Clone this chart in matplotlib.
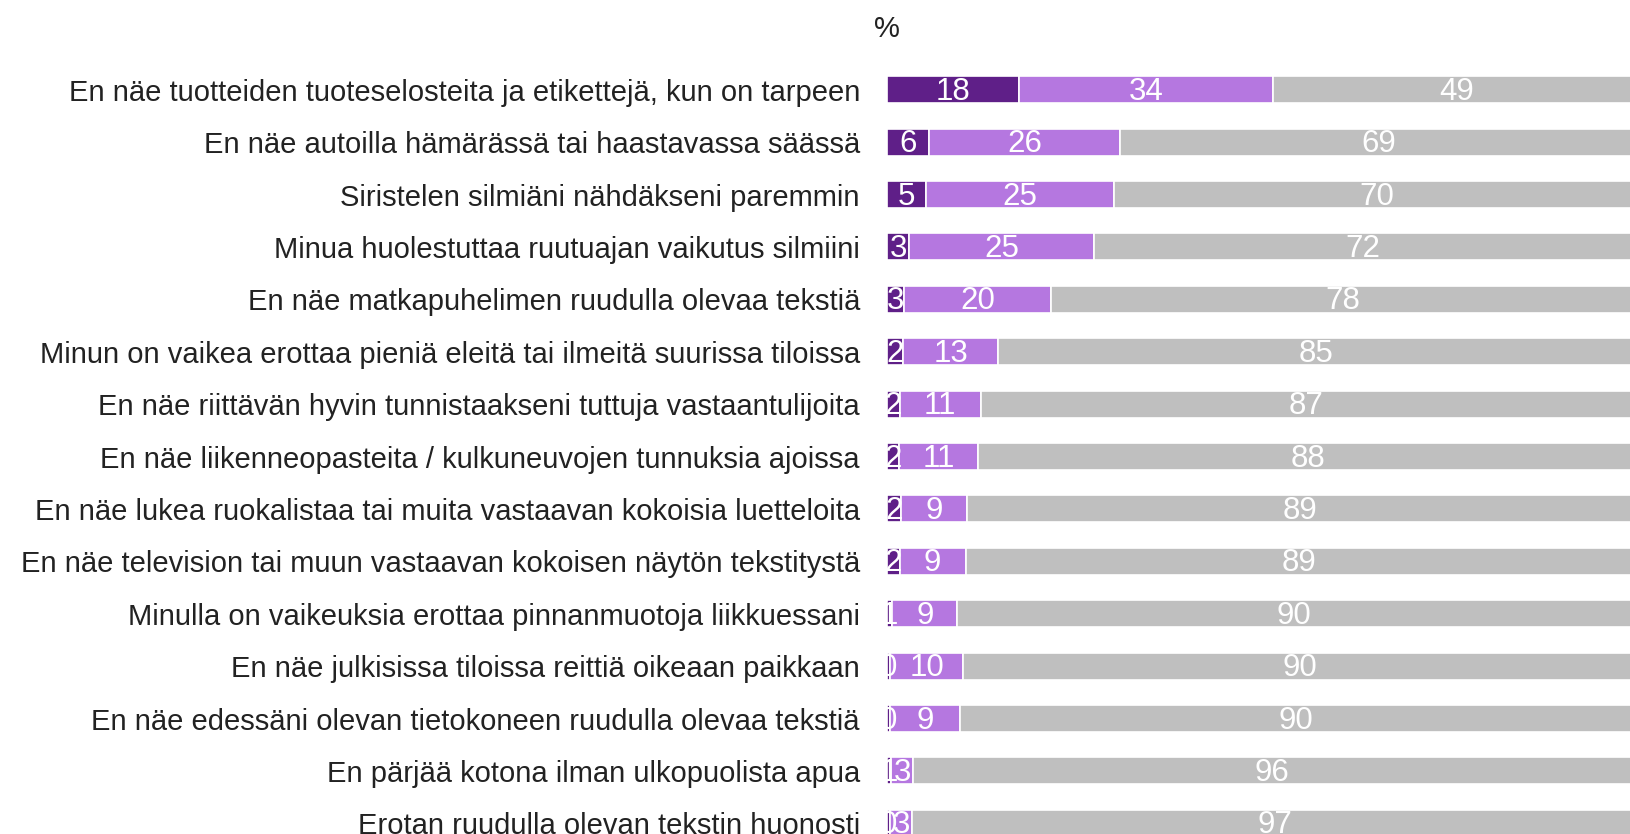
import numpy as np
import matplotlib
matplotlib.use('Agg')
import matplotlib.pyplot as plt

plt.rcParams['font.family'] = ['Liberation Sans', 'DejaVu Sans']

categories = [
    'En näe tuotteiden tuoteselosteita ja etikettejä, kun on tarpeen',
    'En näe autoilla hämärässä tai haastavassa säässä',
    'Siristelen silmiäni nähdäkseni paremmin',
    'Minua huolestuttaa ruutuajan vaikutus silmiini',
    'En näe matkapuhelimen ruudulla olevaa tekstiä',
    'Minun on vaikea erottaa pieniä eleitä tai ilmeitä suurissa tiloissa',
    'En näe riittävän hyvin tunnistaakseni tuttuja vastaantulijoita',
    'En näe liikenneopasteita / kulkuneuvojen tunnuksia ajoissa',
    'En näe lukea ruokalistaa tai muita vastaavan kokoisia luetteloita',
    'En näe television tai muun vastaavan kokoisen näytön tekstitystä',
    'Minulla on vaikeuksia erottaa pinnanmuotoja liikkuessani',
    'En näe julkisissa tiloissa reittiä oikeaan paikkaan',
    'En näe edessäni olevan tietokoneen ruudulla olevaa tekstiä',
    'En pärjää kotona ilman ulkopuolista apua',
    'Erotan ruudulla olevan tekstin huonosti',
]
often = [17.6, 5.6, 5.2, 3.0, 2.3, 2.2, 1.7, 1.6, 1.9, 1.7, 0.7, 0.4, 0.4, 0.6, 0.4]
sometimes = [34.0, 25.6, 25.2, 24.6, 19.6, 12.6, 10.8, 10.6, 8.8, 8.8, 8.7, 9.8, 9.3, 2.9, 3.0]
never = [49.0, 69.0, 70.0, 72.0, 78.0, 85.0, 87.0, 88.0, 89.0, 89.0, 90.0, 90.0, 90.0, 96.0, 97.0]
often_lbl = [18, 6, 5, 3, 3, 2, 2, 2, 2, 2, 1, 0, 0, 1, 0]
sometimes_lbl = [34, 26, 25, 25, 20, 13, 11, 11, 9, 9, 9, 10, 9, 3, 3]
never_lbl = [49, 69, 70, 72, 78, 85, 87, 88, 89, 89, 90, 90, 90, 96, 97]

colors = ['#5f1f88', '#b577e0', '#bfbfbf']

W, H = 1630, 834
fig = plt.figure(figsize=(W / 100, H / 100), dpi=100)
left, top, bottom = 887, 63.5, 849.6
ax = fig.add_axes([left / W, (H - bottom) / H, (W - left) / W, (bottom - top) / H])

y = np.arange(len(categories))
starts = np.zeros(len(categories))
for vals, lbls, col in zip([often, sometimes, never],
                           [often_lbl, sometimes_lbl, never_lbl], colors):
    bars = ax.barh(y, vals, left=starts, height=0.515, color=col,
                   edgecolor='white', linewidth=1.2)
    for rect, v, lab, yi, s in zip(bars, vals, lbls, y, starts):
        t = ax.text(s + v / 2, yi + 0.04, str(lab), ha='center', va='center',
                    color='white', fontsize=22.5)
        t.set_clip_path(rect)
    starts = starts + np.array(vals)

# the bars run on past the right edge of the picture
ax.set_xlim(0, 99.3)
ax.set_ylim(len(categories) - 0.5, -0.5)
ax.set_yticks(y)
ax.set_yticklabels(categories, fontsize=21, color='#222222')
ax.tick_params(axis='y', length=0, pad=19.5)
ax.set_xticks([])
for sp in ax.spines.values():
    sp.set_visible(False)

fig.text(left / W, 1 - 29 / H, '%', ha='center', va='center', fontsize=21,
         color='#222222')

fig.savefig('out.png', dpi=100)
